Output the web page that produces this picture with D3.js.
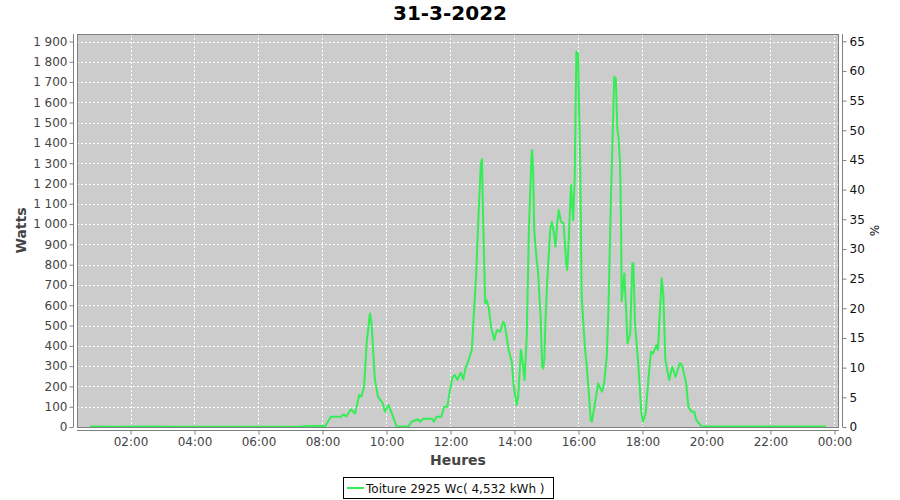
<!DOCTYPE html>
<html>
<head>
<meta charset="utf-8">
<script src="https://cdn.jsdelivr.net/npm/d3@7"></script>
<style>
  html, body { margin: 0; padding: 0; background: #fff; }
  svg { display: block; font-family: "DejaVu Sans", sans-serif; }
</style>
</head>
<body>
<div id="chart"></div>
<script>
const title = "31-3-2022";
const seriesName = "Toiture 2925 Wc( 4,532 kWh )";
const peakPower = 2925;

const times = [
  "00:44","01:30","02:30","03:30","04:30","05:30","06:30","07:20","07:35","08:05",
  "08:11","08:16","08:35","08:39","08:45","08:53","09:01","09:09","09:13","09:18",
  "09:23","09:29","09:32","09:35","09:38","09:44","09:53","09:57","10:04","10:10",
  "10:19","10:41","10:47","10:59","11:03","11:09","11:25","11:29","11:34","11:43",
  "11:48","11:54","11:59","12:04","12:08","12:13","12:19","12:24","12:28","12:34",
  "12:40","12:43","12:48","12:53","12:57","12:59","13:01","13:05","13:08","13:12",
  "13:16","13:22","13:25","13:28","13:33","13:39","13:42","13:49","13:55","13:58",
  "14:04","14:07","14:12","14:14","14:19","14:23","14:27","14:32","14:33","14:35",
  "14:37","14:41","14:44","14:49","14:52","14:54","14:56","14:58","15:01","15:07",
  "15:10","15:13","15:17","15:20","15:23","15:27","15:32","15:37","15:39","15:42",
  "15:46","15:50","15:53","15:56","15:59","16:03","16:06","16:12","16:15","16:20",
  "16:23","16:25","16:31","16:37","16:44","16:48","16:53","16:56","17:01","17:07",
  "17:10","17:13","17:15","17:18","17:20","17:21","17:26","17:29","17:32","17:37",
  "17:41","17:43","17:46","17:52","17:58","18:01","18:06","18:11","18:16","18:20",
  "18:26","18:29","18:36","18:39","18:43","18:50","18:56","19:02","19:10","19:14",
  "19:22","19:26","19:32","19:37","19:41","19:51","20:30","21:15","22:00","22:45",
  "23:44"
];
const watts = [
  2,1,2,1,1,1,1,2,5,5,
  30,51,51,62,52,87,67,158,150,199,
  420,560,511,380,240,150,117,75,108,67,
  2,2,26,38,26,41,41,26,51,51,
  100,100,182,248,256,232,268,235,289,330,
  380,519,741,1069,1300,1320,1053,610,625,585,
  494,429,461,478,470,519,503,380,322,215,
  108,150,380,346,232,445,971,1336,1365,1267,
  971,839,774,543,297,289,340,511,700,971,
  1012,971,889,1004,1069,1012,1004,807,774,938,
  1193,1020,1234,1850,1842,1332,642,396,314,149,
  34,26,117,215,174,215,346,560,1135,1726,
  1718,1464,1431,1300,971,620,757,593,412,461,
  807,807,511,314,67,26,67,232,371,363,
  404,380,733,659,330,232,297,248,314,305,
  215,100,75,75,34,2,2,3,2,2,
  2
];

const yTicks = d3.range(0, 1901, 100);
const pctTicks = d3.range(0, 66, 5);
const xTickHours = [2,4,6,8,10,12,14,16,18,20,22,24];
const xLabels = ["02:00","04:00","06:00","08:00","10:00","12:00","14:00","16:00","18:00","20:00","22:00","00:00"];

const W = 900, H = 500;
const plot = { left: 77, right: 839, top: 34, bottom: 427 };
const green = "#33ee55";

const toH = s => { const [h, m] = s.split(":").map(Number); return h + m / 60; };
const data = times.map((t, i) => ({ h: toH(t), v: watts[i] }));

const x = d3.scaleLinear().domain([0.328, 24.142]).range([plot.left, plot.right]);
const y = d3.scaleLinear().domain([0, 1937]).range([plot.bottom, plot.top]);
const yPct = d3.scaleLinear().domain([0, 1937 / peakPower * 100]).range([plot.bottom, plot.top]);

const svg = d3.select("#chart").append("svg").attr("width", W).attr("height", H);
svg.append("rect").attr("width", W).attr("height", H).attr("fill", "#fff");

svg.append("text").attr("x", 450).attr("y", 20).attr("text-anchor", "middle")
  .attr("font-size", 20).attr("font-weight", "bold").attr("fill", "#000").text(title);

// plot background
svg.append("rect").attr("x", plot.left).attr("y", plot.top)
  .attr("width", plot.right - plot.left).attr("height", plot.bottom - plot.top)
  .attr("fill", "#cccccc");

// gridlines
const grid = svg.append("g").attr("stroke", "#ffffff").attr("stroke-width", 1).attr("stroke-dasharray", "2,2");
grid.selectAll("line.h").data(yTicks.filter(d => d > 0)).join("line")
  .attr("x1", plot.left).attr("x2", plot.right)
  .attr("y1", d => Math.round(y(d)) + 0.5).attr("y2", d => Math.round(y(d)) + 0.5);
grid.selectAll("line.v").data(xTickHours).join("line")
  .attr("y1", plot.top).attr("y2", plot.bottom)
  .attr("x1", d => Math.round(x(d)) + 0.5).attr("x2", d => Math.round(x(d)) + 0.5);

// line
svg.append("defs").append("clipPath").attr("id", "clip").append("rect")
  .attr("x", plot.left).attr("y", plot.top - 2)
  .attr("width", plot.right - plot.left).attr("height", plot.bottom - plot.top + 2);
svg.append("path").datum(data)
  .attr("clip-path", "url(#clip)")
  .attr("fill", "none").attr("stroke", green).attr("stroke-width", 2)
  .attr("stroke-linejoin", "round")
  .attr("d", d3.line().x(d => x(d.h)).y(d => y(d.v)));

// plot outline
svg.append("rect").attr("x", plot.left + 0.5).attr("y", plot.top + 0.5)
  .attr("width", plot.right - plot.left - 1).attr("height", plot.bottom - plot.top)
  .attr("fill", "none").attr("stroke", "#808080").attr("stroke-width", 1);

const fmt = v => d3.format(",")(v).replace(",", "\u00a0");

// left axis
const gl = svg.append("g").attr("transform", `translate(${plot.left - 3.5},0)`)
  .call(d3.axisLeft(y).tickValues(yTicks).tickFormat(fmt).tickSize(4).tickPadding(2).tickSizeOuter(0));
gl.select(".domain").attr("d", `M0,${plot.top}V${plot.bottom}`);
// right axis
const gr = svg.append("g").attr("transform", `translate(${plot.right + 3.5},0)`)
  .call(d3.axisRight(yPct).tickValues(pctTicks).tickSize(4).tickPadding(3).tickSizeOuter(0));
gr.select(".domain").attr("d", `M0,${plot.top}V${plot.bottom}`);
// bottom axis
const gb = svg.append("g").attr("transform", `translate(0,${plot.bottom + 3.5})`)
  .call(d3.axisBottom(x).tickValues(xTickHours).tickFormat((d, i) => xLabels[i]).tickSize(4).tickPadding(3).tickSizeOuter(0));
gb.select(".domain").attr("d", `M${plot.left},0H${plot.right}`);

[gl, gr, gb].forEach(g => {
  g.attr("font-family", "DejaVu Sans, sans-serif").attr("font-size", 12);
  g.selectAll(".domain, .tick line").attr("stroke", "#808080");
});
gl.selectAll("text").attr("fill", "#444");
gb.selectAll("text").attr("fill", "#444");
gr.selectAll("text").attr("fill", "#111");

// axis titles
svg.append("text").attr("transform", `translate(26,${(plot.top + plot.bottom) / 2}) rotate(-90)`)
  .attr("text-anchor", "middle").attr("font-size", 14).attr("font-weight", "bold").attr("fill", "#444").text("Watts");
svg.append("text").attr("x", (plot.left + plot.right) / 2).attr("y", 465)
  .attr("text-anchor", "middle").attr("font-size", 14).attr("font-weight", "bold").attr("fill", "#444").text("Heures");
svg.append("text").attr("transform", `translate(870,${(plot.top + plot.bottom) / 2}) rotate(90)`)
  .attr("text-anchor", "middle").attr("font-size", 12).attr("fill", "#111").text("%");

// legend
const lg = svg.append("g");
lg.append("rect").attr("x", 343.5).attr("y", 477.5).attr("width", 210).attr("height", 21)
  .attr("fill", "#fff").attr("stroke", "#000");
lg.append("line").attr("x1", 347).attr("x2", 364).attr("y1", 488).attr("y2", 488)
  .attr("stroke", green).attr("stroke-width", 2);
lg.append("text").attr("x", 366).attr("y", 492.5).attr("font-size", 12).attr("fill", "#111").text(seriesName);
</script>
</body>
</html>
